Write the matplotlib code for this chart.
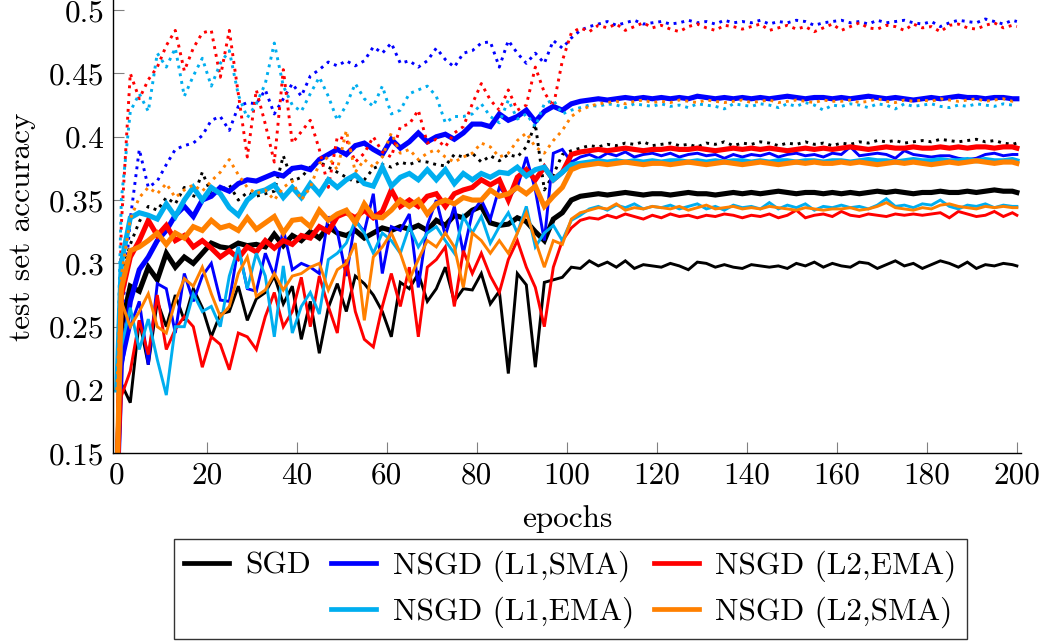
import matplotlib
matplotlib.use("Agg")
import matplotlib.pyplot as plt
from matplotlib.lines import Line2D

plt.rcParams['font.family'] = ['cmr10', 'DejaVu Serif']
plt.rcParams['mathtext.fontset'] = 'cm'
plt.rcParams['axes.formatter.use_mathtext'] = True
plt.rcParams['axes.unicode_minus'] = False

# epochs at which values were read (0, then every odd epoch, then 200)
EPOCHS = [0] + list(range(1, 200, 2)) + [200]

Y_TICKS = [0.15, 0.2, 0.25, 0.3, 0.35, 0.4, 0.45, 0.5]
Y_LABELS = ['0.15', '0.2', '0.25', '0.3', '0.35', '0.4', '0.45', '0.5']
X_TICKS = list(range(0, 201, 20))

# SGD
SGD_THICK = [0.12,
    0.25, 0.282, 0.278, 0.297, 0.287, 0.308, 0.297, 0.305, 0.300, 0.308,
    0.316, 0.313, 0.312, 0.316, 0.314, 0.315, 0.313, 0.323, 0.314, 0.322,
    0.318, 0.325, 0.32, 0.329, 0.324, 0.322, 0.326, 0.32, 0.324, 0.328,
    0.326, 0.329, 0.327, 0.33, 0.326, 0.334, 0.33, 0.338, 0.336, 0.342,
    0.345, 0.332, 0.33, 0.331, 0.336, 0.333, 0.325, 0.318, 0.335, 0.34,
    0.350, 0.353, 0.354, 0.355, 0.354, 0.355, 0.356, 0.355, 0.354, 0.355,
    0.355, 0.354, 0.355, 0.356, 0.355, 0.355, 0.354, 0.355, 0.356, 0.355,
    0.356, 0.355, 0.356, 0.357, 0.356, 0.355, 0.356, 0.356, 0.355, 0.356,
    0.355, 0.356, 0.355, 0.356, 0.357, 0.356, 0.357, 0.356, 0.355, 0.356,
    0.356, 0.357, 0.356, 0.356, 0.357, 0.356, 0.357, 0.358, 0.357, 0.357,
    0.356]
SGD_THIN = [0.10,
    0.205, 0.19, 0.255, 0.22, 0.27, 0.25, 0.275, 0.255, 0.28, 0.265,
    0.242, 0.26, 0.262, 0.282, 0.255, 0.272, 0.277, 0.29, 0.268, 0.282,
    0.24, 0.27, 0.229, 0.265, 0.284, 0.262, 0.29, 0.284, 0.275, 0.262,
    0.242, 0.285, 0.28, 0.292, 0.27, 0.28, 0.297, 0.27, 0.28, 0.279,
    0.292, 0.268, 0.278, 0.213, 0.292, 0.283, 0.218, 0.285, 0.287, 0.289,
    0.297, 0.296, 0.302, 0.298, 0.301, 0.297, 0.302, 0.296, 0.299, 0.298,
    0.297, 0.3, 0.298, 0.295, 0.301, 0.3, 0.297, 0.299, 0.297, 0.296,
    0.299, 0.298, 0.297, 0.298, 0.296, 0.3, 0.298, 0.301, 0.297, 0.3,
    0.298, 0.297, 0.301, 0.3, 0.296, 0.299, 0.302, 0.298, 0.3, 0.296,
    0.299, 0.302, 0.3, 0.297, 0.301, 0.296, 0.299, 0.298, 0.3, 0.299,
    0.298]
SGD_DOT = [0.13,
    0.29, 0.315, 0.333, 0.345, 0.342, 0.352, 0.347, 0.36, 0.352, 0.372,
    0.355, 0.357, 0.362, 0.35, 0.356, 0.353, 0.355, 0.357, 0.385, 0.365,
    0.368, 0.376, 0.38, 0.376, 0.372, 0.368, 0.364, 0.366, 0.375, 0.378,
    0.376, 0.38, 0.378, 0.381, 0.38, 0.378, 0.377, 0.386, 0.384, 0.387,
    0.38, 0.385, 0.381, 0.386, 0.384, 0.392, 0.41, 0.358, 0.37, 0.386,
    0.389, 0.391, 0.393, 0.392, 0.394, 0.393, 0.395, 0.394, 0.396, 0.393,
    0.394, 0.395, 0.393, 0.394, 0.392, 0.395, 0.394, 0.396, 0.393, 0.395,
    0.394, 0.396, 0.395, 0.393, 0.395, 0.394, 0.396, 0.394, 0.395, 0.393,
    0.395, 0.394, 0.396, 0.395, 0.397, 0.396, 0.397, 0.395, 0.396, 0.397,
    0.396, 0.398, 0.397, 0.396, 0.397, 0.398, 0.396, 0.397, 0.395, 0.394,
    0.395]

# NSGD (L1,SMA)
L1SMA_THICK = [0.11,
    0.22, 0.27, 0.295, 0.305, 0.318, 0.326, 0.338, 0.345, 0.337, 0.35,
    0.353, 0.36, 0.357, 0.363, 0.366, 0.365, 0.368, 0.371, 0.369, 0.375,
    0.376, 0.374, 0.382, 0.386, 0.39, 0.386, 0.393, 0.395, 0.39, 0.386,
    0.398, 0.391, 0.396, 0.403, 0.396, 0.4, 0.402, 0.398, 0.403, 0.41,
    0.41, 0.408, 0.418, 0.413, 0.416, 0.421, 0.412, 0.42, 0.424, 0.421,
    0.426, 0.428, 0.429, 0.43, 0.429, 0.43, 0.431, 0.43, 0.431, 0.43,
    0.431, 0.43, 0.431, 0.43, 0.432, 0.431, 0.43, 0.431, 0.43, 0.431,
    0.43, 0.431, 0.43, 0.431, 0.432, 0.431, 0.43, 0.431, 0.431, 0.43,
    0.431, 0.43, 0.431, 0.432, 0.431, 0.43, 0.431, 0.43, 0.429, 0.43,
    0.431, 0.43, 0.431, 0.432, 0.431, 0.431, 0.43, 0.431, 0.431, 0.43,
    0.43]
L1SMA_THIN = [0.10,
    0.218, 0.25, 0.27, 0.22, 0.284, 0.28, 0.245, 0.292, 0.27, 0.29,
    0.30, 0.271, 0.27, 0.313, 0.28, 0.278, 0.308, 0.29, 0.327, 0.295,
    0.30, 0.297, 0.292, 0.337, 0.325, 0.29, 0.334, 0.325, 0.355, 0.292,
    0.329, 0.326, 0.339, 0.281, 0.33, 0.35, 0.322, 0.345, 0.308, 0.34,
    0.35, 0.335, 0.36, 0.352, 0.36, 0.384, 0.358, 0.318, 0.387, 0.39,
    0.38, 0.384, 0.386, 0.383, 0.387, 0.385, 0.388, 0.384, 0.386, 0.387,
    0.385, 0.387, 0.384, 0.386, 0.387, 0.385, 0.386, 0.383, 0.386, 0.384,
    0.386, 0.385, 0.387, 0.384, 0.386, 0.387, 0.385, 0.386, 0.384, 0.387,
    0.386, 0.392, 0.385, 0.386, 0.387, 0.386, 0.383, 0.389, 0.386, 0.385,
    0.384, 0.385, 0.385, 0.383, 0.382, 0.383, 0.386, 0.387, 0.385, 0.386,
    0.386]
L1SMA_DOT = [0.12,
    0.25, 0.335, 0.39, 0.36, 0.365, 0.378, 0.39, 0.393, 0.395, 0.401,
    0.413, 0.416, 0.405, 0.424, 0.427, 0.426, 0.437, 0.418, 0.43, 0.442,
    0.432, 0.448, 0.453, 0.459, 0.456, 0.46, 0.456, 0.46, 0.471, 0.466,
    0.474, 0.458, 0.46, 0.455, 0.46, 0.47, 0.461, 0.455, 0.466, 0.468,
    0.474, 0.475, 0.455, 0.476, 0.466, 0.458, 0.466, 0.458, 0.476, 0.47,
    0.478, 0.484, 0.487, 0.489, 0.491, 0.488, 0.49, 0.492, 0.489, 0.49,
    0.491, 0.489, 0.49, 0.492, 0.49, 0.491, 0.489, 0.492, 0.49, 0.491,
    0.49, 0.492, 0.489, 0.491, 0.49, 0.492, 0.491, 0.488, 0.49, 0.491,
    0.492, 0.49, 0.491, 0.489, 0.492, 0.49, 0.491, 0.492, 0.49, 0.489,
    0.491, 0.487, 0.49, 0.492, 0.491, 0.49, 0.493, 0.491, 0.489, 0.492,
    0.491]

# NSGD (L2,EMA)
L2EMA_THICK = [0.11,
    0.274, 0.305, 0.318, 0.334, 0.322, 0.33, 0.318, 0.322, 0.313, 0.318,
    0.312, 0.305, 0.31, 0.304, 0.313, 0.309, 0.318, 0.312, 0.318, 0.315,
    0.322, 0.32, 0.329, 0.325, 0.337, 0.34, 0.336, 0.342, 0.336, 0.341,
    0.358, 0.345, 0.35, 0.345, 0.353, 0.355, 0.345, 0.355, 0.358, 0.36,
    0.366, 0.362, 0.366, 0.35, 0.368, 0.374, 0.366, 0.376, 0.366, 0.372,
    0.386, 0.388, 0.389, 0.39, 0.389, 0.39, 0.391, 0.39, 0.389, 0.39,
    0.39, 0.391, 0.39, 0.39, 0.391, 0.39, 0.389, 0.39, 0.391, 0.39,
    0.391, 0.39, 0.391, 0.39, 0.389, 0.39, 0.391, 0.39, 0.391, 0.39,
    0.391, 0.392, 0.391, 0.39, 0.391, 0.392, 0.391, 0.391, 0.392, 0.391,
    0.391, 0.392, 0.391, 0.392, 0.391, 0.392, 0.392, 0.391, 0.392, 0.392,
    0.391]
L2EMA_THIN = [0.10,
    0.195, 0.215, 0.255, 0.228, 0.275, 0.232, 0.248, 0.258, 0.25, 0.218,
    0.242, 0.236, 0.216, 0.245, 0.242, 0.232, 0.258, 0.277, 0.25, 0.262,
    0.289, 0.25, 0.29, 0.266, 0.245, 0.303, 0.262, 0.24, 0.234, 0.266,
    0.292, 0.266, 0.297, 0.242, 0.297, 0.303, 0.313, 0.266, 0.31, 0.292,
    0.308, 0.29, 0.277, 0.303, 0.318, 0.297, 0.281, 0.25, 0.297, 0.318,
    0.328, 0.334, 0.336, 0.335, 0.338, 0.336, 0.339, 0.337, 0.335, 0.338,
    0.336, 0.339, 0.337, 0.338, 0.336, 0.338, 0.337, 0.339, 0.338, 0.336,
    0.338, 0.337, 0.339, 0.336, 0.338, 0.342, 0.336, 0.338, 0.339, 0.337,
    0.341, 0.338, 0.337, 0.339, 0.338, 0.337, 0.339, 0.338, 0.339, 0.338,
    0.339, 0.34, 0.336, 0.341, 0.339, 0.337, 0.338, 0.341, 0.337, 0.34,
    0.338]
L2EMA_DOT = [0.14,
    0.33, 0.45, 0.43, 0.445, 0.455, 0.472, 0.484, 0.452, 0.47, 0.482,
    0.484, 0.447, 0.484, 0.434, 0.384, 0.437, 0.41, 0.38, 0.453, 0.395,
    0.404, 0.413, 0.39, 0.36, 0.40, 0.398, 0.38, 0.387, 0.4, 0.388,
    0.384, 0.408, 0.41, 0.421, 0.395, 0.398, 0.392, 0.403, 0.408, 0.426,
    0.442, 0.429, 0.421, 0.437, 0.421, 0.425, 0.455, 0.435, 0.424, 0.46,
    0.482, 0.486, 0.483, 0.488, 0.486, 0.489, 0.484, 0.487, 0.49, 0.486,
    0.488, 0.485, 0.483, 0.487, 0.489, 0.486, 0.484, 0.488, 0.487, 0.485,
    0.487, 0.489, 0.484, 0.486, 0.488, 0.485, 0.487, 0.483, 0.486, 0.489,
    0.484, 0.487, 0.49, 0.486, 0.485, 0.488, 0.487, 0.484, 0.489, 0.486,
    0.487, 0.483, 0.488, 0.489, 0.486, 0.485, 0.488, 0.49, 0.486, 0.488,
    0.487]

# NSGD (L1,EMA)
L1EMA_THICK = [0.2,
    0.3, 0.336, 0.34, 0.338, 0.335, 0.347, 0.337, 0.35, 0.36, 0.35,
    0.36, 0.355, 0.344, 0.338, 0.35, 0.356, 0.358, 0.362, 0.352, 0.36,
    0.352, 0.363, 0.355, 0.366, 0.36, 0.366, 0.37, 0.363, 0.361, 0.376,
    0.361, 0.368, 0.371, 0.366, 0.374, 0.366, 0.374, 0.363, 0.371, 0.366,
    0.371, 0.368, 0.372, 0.371, 0.376, 0.369, 0.374, 0.376, 0.366, 0.372,
    0.378, 0.379, 0.38, 0.381, 0.38, 0.381, 0.38, 0.381, 0.38, 0.381,
    0.38, 0.381, 0.381, 0.38, 0.381, 0.38, 0.381, 0.38, 0.381, 0.381,
    0.38, 0.381, 0.38, 0.381, 0.381, 0.38, 0.381, 0.381, 0.38, 0.381,
    0.381, 0.38, 0.381, 0.382, 0.381, 0.381, 0.38, 0.381, 0.382, 0.381,
    0.381, 0.382, 0.381, 0.381, 0.382, 0.381, 0.382, 0.381, 0.381, 0.382,
    0.381]
L1EMA_THIN = [0.12,
    0.234, 0.265, 0.232, 0.256, 0.224, 0.196, 0.25, 0.25, 0.276, 0.262,
    0.266, 0.25, 0.29, 0.313, 0.28, 0.308, 0.29, 0.242, 0.298, 0.245,
    0.266, 0.277, 0.26, 0.303, 0.308, 0.316, 0.334, 0.324, 0.308, 0.324,
    0.318, 0.308, 0.329, 0.313, 0.324, 0.329, 0.318, 0.308, 0.337, 0.324,
    0.337, 0.316, 0.329, 0.34, 0.324, 0.345, 0.313, 0.324, 0.33, 0.318,
    0.334, 0.338, 0.343, 0.345, 0.342, 0.346, 0.344, 0.347, 0.343, 0.345,
    0.344, 0.346, 0.343, 0.345, 0.347, 0.343, 0.345, 0.342, 0.346, 0.344,
    0.345, 0.343, 0.348, 0.343, 0.346, 0.344, 0.347, 0.342, 0.345, 0.344,
    0.346, 0.344, 0.345, 0.343, 0.346, 0.351, 0.345, 0.346, 0.344, 0.347,
    0.346, 0.35, 0.345, 0.343, 0.346, 0.345, 0.347, 0.344, 0.346, 0.345,
    0.345]
L1EMA_DOT = [0.2,
    0.35, 0.42, 0.434, 0.42, 0.466, 0.455, 0.47, 0.432, 0.448, 0.462,
    0.44, 0.458, 0.468, 0.433, 0.415, 0.426, 0.442, 0.474, 0.44, 0.425,
    0.42, 0.434, 0.447, 0.432, 0.413, 0.425, 0.442, 0.43, 0.424, 0.44,
    0.418, 0.421, 0.434, 0.437, 0.44, 0.432, 0.411, 0.416, 0.416, 0.418,
    0.426, 0.416, 0.411, 0.429, 0.414, 0.418, 0.408, 0.426, 0.429, 0.418,
    0.421, 0.423, 0.425, 0.424, 0.426, 0.425, 0.423, 0.426, 0.425, 0.424,
    0.426, 0.424, 0.425, 0.423, 0.426, 0.425, 0.424, 0.422, 0.426, 0.425,
    0.424, 0.426, 0.425, 0.423, 0.426, 0.424, 0.427, 0.425, 0.421, 0.425,
    0.424, 0.426, 0.425, 0.423, 0.426, 0.425, 0.422, 0.426, 0.424, 0.425,
    0.426, 0.424, 0.423, 0.425, 0.424, 0.426, 0.425, 0.424, 0.426, 0.425,
    0.425]

# NSGD (L2,SMA)
L2SMA_THICK = [0.12,
    0.28, 0.31, 0.313, 0.318, 0.324, 0.315, 0.324, 0.32, 0.329, 0.326,
    0.334, 0.328, 0.33, 0.326, 0.336, 0.327, 0.332, 0.337, 0.324, 0.334,
    0.335, 0.329, 0.342, 0.334, 0.339, 0.342, 0.332, 0.347, 0.337, 0.336,
    0.342, 0.35, 0.345, 0.35, 0.339, 0.347, 0.35, 0.347, 0.352, 0.35,
    0.35, 0.358, 0.353, 0.355, 0.36, 0.355, 0.361, 0.345, 0.353, 0.36,
    0.374, 0.377, 0.378, 0.379, 0.378, 0.379, 0.38, 0.379, 0.378, 0.379,
    0.379, 0.378, 0.379, 0.38, 0.379, 0.378, 0.379, 0.38, 0.379, 0.378,
    0.379, 0.38, 0.379, 0.378, 0.379, 0.38, 0.379, 0.38, 0.379, 0.379,
    0.38, 0.379, 0.38, 0.379, 0.378, 0.379, 0.38, 0.379, 0.38, 0.379,
    0.378, 0.379, 0.38, 0.379, 0.38, 0.381, 0.38, 0.379, 0.38, 0.38,
    0.379]
L2SMA_THIN = [0.14,
    0.27, 0.25, 0.262, 0.276, 0.25, 0.245, 0.27, 0.288, 0.282, 0.297,
    0.276, 0.258, 0.266, 0.292, 0.305, 0.274, 0.279, 0.292, 0.279, 0.29,
    0.292, 0.297, 0.30, 0.279, 0.295, 0.30, 0.316, 0.255, 0.305, 0.313,
    0.324, 0.308, 0.287, 0.303, 0.318, 0.313, 0.324, 0.313, 0.281, 0.324,
    0.318, 0.308, 0.318, 0.308, 0.324, 0.34, 0.318, 0.297, 0.318, 0.315,
    0.335, 0.34, 0.342, 0.344, 0.343, 0.347, 0.342, 0.344, 0.343, 0.345,
    0.344, 0.343, 0.345, 0.342, 0.344, 0.346, 0.343, 0.344, 0.345, 0.343,
    0.344, 0.343, 0.345, 0.344, 0.343, 0.342, 0.344, 0.343, 0.342, 0.343,
    0.343, 0.344, 0.342, 0.343, 0.345, 0.348, 0.344, 0.343, 0.342, 0.344,
    0.343, 0.346, 0.347, 0.345, 0.344, 0.343, 0.345, 0.344, 0.345, 0.344,
    0.344]
L2SMA_DOT = [0.2,
    0.29, 0.335, 0.352, 0.36, 0.355, 0.363, 0.352, 0.358, 0.362, 0.357,
    0.365, 0.372, 0.382, 0.37, 0.36, 0.355, 0.358, 0.35, 0.36, 0.365,
    0.35, 0.36, 0.379, 0.384, 0.374, 0.405, 0.372, 0.382, 0.376, 0.384,
    0.403, 0.387, 0.39, 0.382, 0.387, 0.39, 0.384, 0.38, 0.384, 0.387,
    0.395, 0.392, 0.384, 0.387, 0.397, 0.403, 0.392, 0.387, 0.397, 0.405,
    0.416, 0.421, 0.424, 0.426, 0.427, 0.428, 0.426, 0.428, 0.429, 0.427,
    0.428, 0.427, 0.429, 0.428, 0.427, 0.429, 0.428, 0.427, 0.428, 0.429,
    0.427, 0.428, 0.429, 0.427, 0.428, 0.429, 0.428, 0.427, 0.429, 0.428,
    0.428, 0.429, 0.427, 0.428, 0.43, 0.428, 0.427, 0.429, 0.428, 0.429,
    0.428, 0.43, 0.429, 0.428, 0.429, 0.43, 0.428, 0.429, 0.43, 0.428,
    0.429]

BLACK = '#000000'
BLUE = '#0000ff'
RED = '#ff0000'
CYAN = '#00aeef'
ORANGE = '#ff8000'

METHODS = [
    ('SGD', BLACK, SGD_THICK, SGD_THIN, SGD_DOT),
    ('NSGD (L1,SMA)', BLUE, L1SMA_THICK, L1SMA_THIN, L1SMA_DOT),
    ('NSGD (L2,EMA)', RED, L2EMA_THICK, L2EMA_THIN, L2EMA_DOT),
    ('NSGD (L1,EMA)', CYAN, L1EMA_THICK, L1EMA_THIN, L1EMA_DOT),
    ('NSGD (L2,SMA)', ORANGE, L2SMA_THICK, L2SMA_THIN, L2SMA_DOT),
]

FS = 22.5
THICK = 3.7
THIN = 2.1


def main():
    fig = plt.figure(figsize=(10.42, 6.43), dpi=100)
    ax = fig.add_axes([0.1082, 0.295, 0.872, 0.705])

    handles = {}
    for name, color, thick, thin, dot in METHODS:
        ax.plot(EPOCHS, dot, color=color, lw=2.1, linestyle=(0, (1.0, 1.7)),
                dash_capstyle='butt', solid_joinstyle='miter')
        ax.plot(EPOCHS, thin, color=color, lw=THIN, solid_joinstyle='miter')
        ax.plot(EPOCHS, thick, color=color, lw=THICK, solid_joinstyle='miter')
        handles[name] = Line2D([], [], color=color, lw=3.4)

    ax.set_xlim(-0.9, 201)
    ax.set_ylim(0.15, 0.508)
    ax.set_xticks(X_TICKS)
    ax.set_xticklabels([str(t) for t in X_TICKS])
    ax.set_yticks(Y_TICKS)
    ax.set_yticklabels(Y_LABELS)
    ax.tick_params(direction='in', length=8, width=0.8, color='#808080',
                   labelsize=FS, pad=6, top=False, right=False)
    for side in ('top', 'right'):
        ax.spines[side].set_visible(False)
    for side in ('left', 'bottom'):
        ax.spines[side].set_linewidth(1.0)

    ax.set_xlabel('epochs', fontsize=FS, labelpad=11)
    ax.set_ylabel('test set accuracy', fontsize=FS, labelpad=9)

    blank = Line2D([], [], alpha=0)
    order = [handles['SGD'], blank,
             handles['NSGD (L1,SMA)'], handles['NSGD (L1,EMA)'],
             handles['NSGD (L2,EMA)'], handles['NSGD (L2,SMA)']]
    labels = ['SGD', '', 'NSGD (L1,SMA)', 'NSGD (L1,EMA)',
              'NSGD (L2,EMA)', 'NSGD (L2,SMA)']
    leg = fig.legend(order, labels, ncol=3, loc='upper center',
                     bbox_to_anchor=(0.5475, 0.1613), borderaxespad=0,
                     fontsize=FS, frameon=True, fancybox=False,
                     edgecolor='black', handlelength=1.44, handletextpad=0.52,
                     columnspacing=0.64, labelspacing=0.48, borderpad=0.35)
    leg.get_frame().set_linewidth(1.0)

    fig.savefig('out.png', dpi=100)


if __name__ == '__main__':
    main()
